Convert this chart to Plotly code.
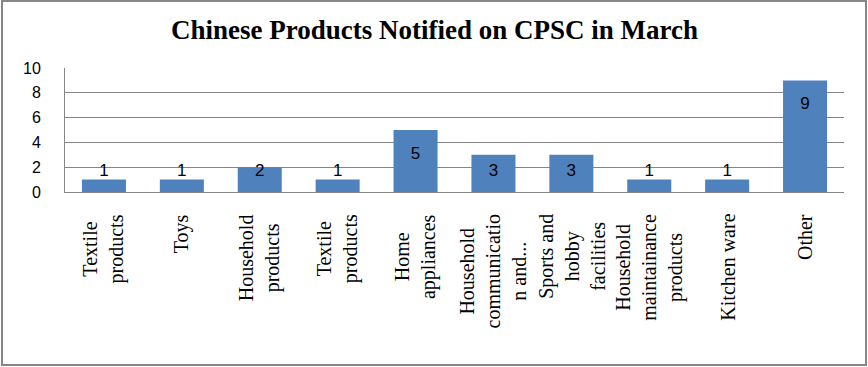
import plotly.graph_objects as go

categories = ["Textile<br>products", "Toys", "Household<br>products", "Textile<br>products",
              "Home<br>appliances", "Household<br>communicatio<br>n and...",
              "Sports and<br>hobby<br>facilities", "Household<br>maintainance<br>products",
              "Kitchen ware", "Other"]
values = [1, 1, 2, 1, 5, 3, 3, 1, 1, 9]
y_ticks = [0, 2, 4, 6, 8, 10]
title_text = "Chinese Products Notified on CPSC in March"

W, H = 868, 367
L, R, T, B = 65, 844, 68, 192

idx = list(range(len(values)))
label_y = [max(v - 2, 1.6) for v in values]

fig = go.Figure()
fig.add_trace(go.Bar(x=idx, y=values, width=0.565, marker=dict(color="#4F81BD", line=dict(width=0)),
                     hoverinfo="skip"))
fig.add_trace(go.Scatter(x=idx, y=label_y, mode="text", text=[str(v) for v in values],
                         textposition="middle center",
                         textfont=dict(family="Liberation Sans", size=17, color="#000000"),
                         hoverinfo="skip"))

for i, c in enumerate(categories):
    fig.add_annotation(x=i, xref="x", y=-20 / (B - T), yref="paper", yanchor="top",
                       xanchor="center", text=c, textangle=-90, align="center",
                       showarrow=False,
                       font=dict(family="Liberation Serif", size=20, color="#000000"))

pw, ph = R - L, B - T
def px(x): return (x - L) / pw
def py(y): return (B - y) / ph

fig.add_shape(type="rect", xref="paper", yref="paper",
              x0=px(2), x1=px(866), y0=py(1), y1=py(365),
              line=dict(color="#868686", width=2), fillcolor="rgba(0,0,0,0)", layer="below")

fig.update_layout(
    width=W, height=H,
    margin=dict(l=L, r=W - R, t=T, b=H - B, pad=0),
    paper_bgcolor="white", plot_bgcolor="white",
    showlegend=False,
    title=dict(text="<b>" + title_text + "</b>", x=(172 + 697) / 2 / W, xanchor="center",
               y=1 - 30 / H, yanchor="middle",
               font=dict(family="Liberation Serif", size=27, color="#000000")),
    bargap=0.44,
)
fig.update_xaxes(range=[-0.5, len(values) - 0.5], showticklabels=False, showgrid=False,
                 zeroline=False, showline=True, linecolor="#868686", linewidth=1, ticks="")
fig.update_yaxes(range=[0, 10], tickvals=y_ticks, showgrid=True, gridcolor="#868686", gridwidth=1,
                 zeroline=False, showline=True, linecolor="#868686", linewidth=1, ticks="",
                 ticklabelstandoff=20,
                 tickfont=dict(family="Liberation Sans", size=16, color="#000000"))

fig.write_html("out.html", config={"displayModeBar": False},
               post_script="document.body.style.margin='0';document.body.style.overflow='hidden';")
